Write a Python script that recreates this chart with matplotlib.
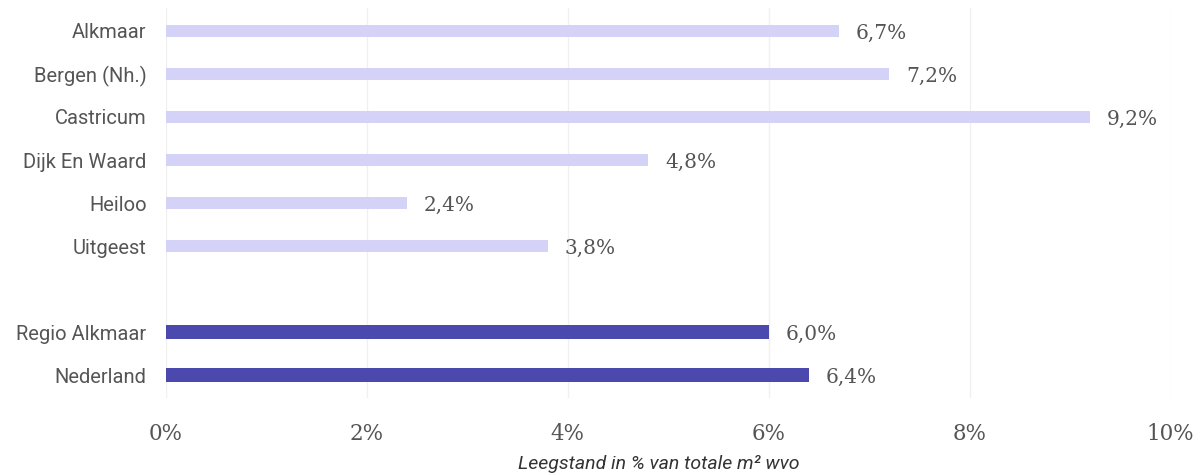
import matplotlib
matplotlib.use("Agg")
import matplotlib.pyplot as plt

# Vacancy share per municipality, plus region and national reference
gemeenten = ["Alkmaar", "Bergen (Nh.)", "Castricum", "Dijk En Waard", "Heiloo", "Uitgeest"]
gemeente_waarden = [6.7, 7.2, 9.2, 4.8, 2.4, 3.8]
referenties = ["Regio Alkmaar", "Nederland"]
referentie_waarden = [6.0, 6.4]
x_ticks = [0, 2, 4, 6, 8, 10]
x_tick_labels = ["0%", "2%", "4%", "6%", "8%", "10%"]
x_label = "Leegstand in % van totale m\u00b2 wvo"

light = "#d5d2f7"
dark = "#4b48ae"
label_grey = "#555555"

fig = plt.figure(figsize=(12.03, 4.75), dpi=100)
ax = fig.add_axes([0.138, 0.162, 0.835, 0.821])

pos_g = list(range(len(gemeenten)))
pos_r = [len(gemeenten) + 1 + i for i in range(len(referenties))]

ax.barh(pos_g, gemeente_waarden, height=0.28, color=light, zorder=2)
ax.barh(pos_r, referentie_waarden, height=0.33, color=dark, zorder=2)

def fmt(v):
    return f"{v:.1f}%".replace(".", ",")

for p, v in zip(pos_g + pos_r, gemeente_waarden + referentie_waarden):
    ax.text(v + 0.17, p + 0.05, fmt(v), va="center", ha="left",
            family="DejaVu Serif", fontsize=14.5, color="#555555")

ax.set_xlim(0, 10)
ax.set_ylim(len(gemeenten) + len(referenties) + 0.53, -0.53)
ax.set_xticks(x_ticks)
ax.set_xticklabels(x_tick_labels, family="DejaVu Serif", fontsize=15.5, color="#555555")
ax.set_yticks(pos_g + pos_r)
ax.set_yticklabels(gemeenten + referenties, family="Roboto", fontsize=14.5, color=label_grey)
ax.tick_params(axis="y", length=0, pad=14)
ax.tick_params(axis="x", length=0, pad=18)

ax.xaxis.grid(True, color="#f0f0f0", linewidth=1.0, zorder=0)
for s in ax.spines.values():
    s.set_visible(False)

ax.set_xlabel(x_label, family="Roboto", style="italic", fontsize=14,
              color="#333333")
ax.xaxis.set_label_coords(0.491, -0.145)

fig.savefig("out.png", dpi=100, facecolor="white")
